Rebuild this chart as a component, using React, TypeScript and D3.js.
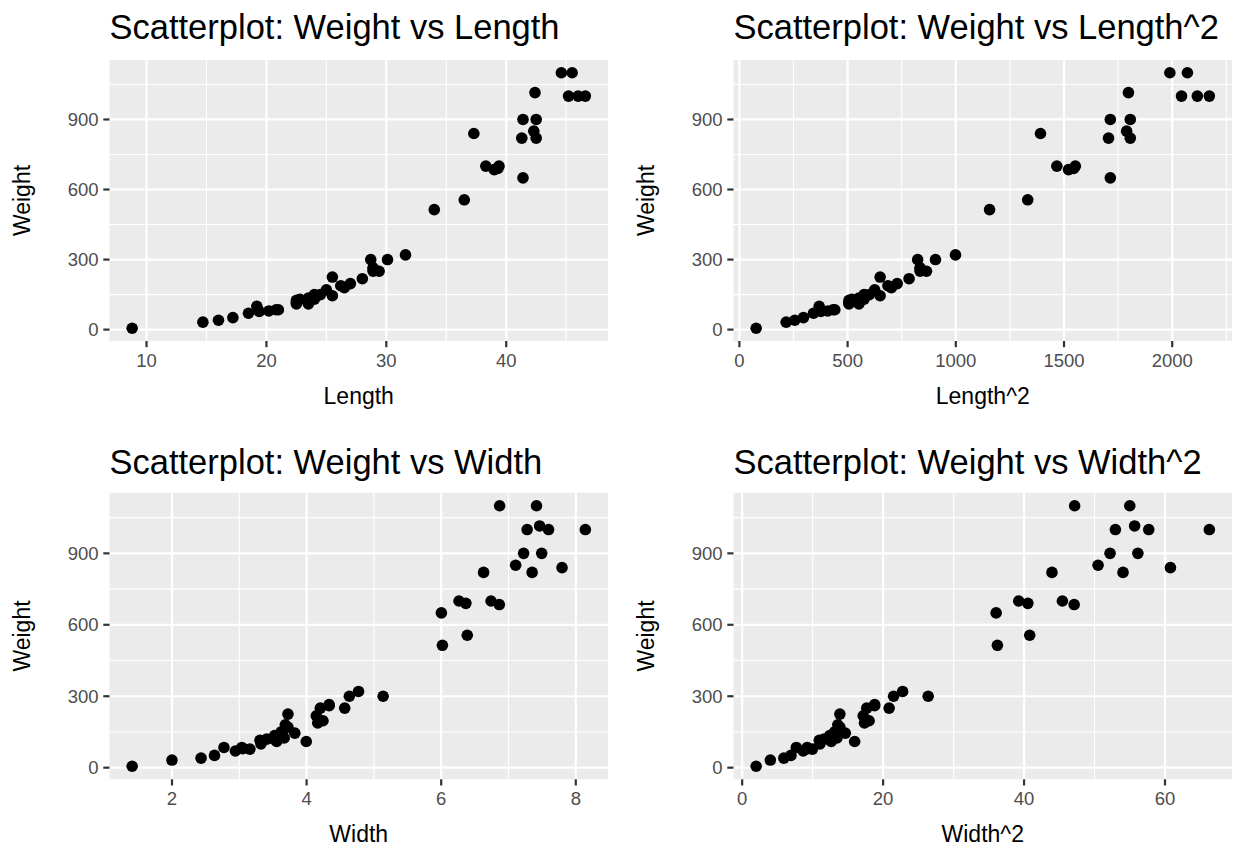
import React from "react";
import * as d3 from "d3";

// Perch data: Weight, Length, Width
const weight = [5.9, 32, 40, 51.5, 70, 100, 78, 80, 85, 85, 110, 115, 125, 130, 120, 120, 130, 135, 110, 130, 150, 145, 150, 170, 225, 145, 188, 180, 197, 218, 300, 260, 265, 250, 250, 300, 320, 514, 556, 840, 685, 700, 700, 690, 900, 650, 820, 850, 900, 1015, 820, 1100, 1000, 1100, 1000, 1000];
const length = [8.8, 14.7, 16.0, 17.2, 18.5, 19.2, 19.4, 20.2, 20.8, 21.0, 22.5, 22.5, 22.5, 22.8, 23.5, 23.5, 23.5, 23.5, 23.5, 24.0, 24.0, 24.2, 24.5, 25.0, 25.5, 25.5, 26.2, 26.5, 27.0, 28.0, 28.7, 28.9, 28.9, 28.9, 29.4, 30.1, 31.6, 34.0, 36.5, 37.3, 39.0, 38.3, 39.4, 39.3, 41.4, 41.4, 41.3, 42.3, 42.5, 42.4, 42.5, 44.6, 45.2, 45.5, 46.0, 46.6];
const width = [1.408, 1.9992, 2.432, 2.6316, 2.9415, 3.3216, 3.1571, 3.0502, 3.0368, 2.772, 3.555, 3.3075, 3.6675, 3.5245, 3.4075, 3.525, 3.525, 3.525, 3.995, 3.624, 3.624, 3.63, 3.626, 3.723, 3.723, 3.825, 4.1658, 3.6835, 4.2439, 4.144, 5.1373, 4.335, 4.335, 4.5662, 4.2042, 4.6354, 4.7716, 6.018, 6.3875, 7.7957, 6.8638, 6.7408, 6.2646, 6.3666, 7.4934, 6.003, 7.3514, 7.1064, 7.225, 7.4624, 6.63, 6.8684, 7.2772, 7.4165, 8.142, 7.5958];

const lengthSq = length.map((v) => v * v);
const widthSq = width.map((v) => v * v);

const weightTicks = [0, 300, 600, 900];
const lengthTicks = [10, 20, 30, 40];
const lengthSqTicks = [0, 500, 1000, 1500, 2000];
const widthTicks = [2, 4, 6, 8];
const widthSqTicks = [0, 20, 40, 60];

const titles = [
  "Scatterplot: Weight vs Length",
  "Scatterplot: Weight vs Length^2",
  "Scatterplot: Weight vs Width",
  "Scatterplot: Weight vs Width^2",
];
const xLabels = ["Length", "Length^2", "Width", "Width^2"];

const FONT = "'Liberation Sans', Arial, Helvetica, sans-serif";
const TICK_FS = 18.5;
const AXIS_FS = 23;
const TITLE_FS = 34.5;

function expand(vals: number[]): [number, number] {
  const [lo, hi] = d3.extent(vals) as [number, number];
  const s = hi - lo;
  return [lo - 0.05 * s, hi + 0.05 * s];
}

function minors(ticks: number[], dom: [number, number]) {
  const step = ticks[1] - ticks[0];
  const out: number[] = [];
  for (let v = ticks[0] - step / 2; v <= ticks[ticks.length - 1] + step / 2 + 1e-9; v += step) {
    if (v >= dom[0] && v <= dom[1]) out.push(v);
  }
  return out;
}

type PanelProps = {
  title: string;
  xLabel: string;
  xs: number[];
  ys: number[];
  xTicks: number[];
  x0: number;
  x1: number;
  y0: number;
  y1: number;
  titleOff: number;
};

function Panel({ title, xLabel, xs, ys, xTicks, x0, x1, y0, y1, titleOff }: PanelProps) {
  const xDom = expand(xs);
  const yDom = expand(ys);
  const x = d3.scaleLinear().domain(xDom).range([x0, x1]);
  const y = d3.scaleLinear().domain(yDom).range([y1, y0]);
  const xMin = minors(xTicks, xDom);
  const yMin = minors(weightTicks, yDom);
  return (
    <g>
      <text x={x0} y={y0 - titleOff} fontSize={TITLE_FS} fontFamily={FONT} fill="#000">
        {title}
      </text>
      <rect x={x0} y={y0} width={x1 - x0} height={y1 - y0} fill="#EBEBEB" />
      {xMin.map((v) => (
        <line key={"xm" + v} x1={x(v)} x2={x(v)} y1={y0} y2={y1} stroke="#fff" strokeWidth={1.1} />
      ))}
      {yMin.map((v) => (
        <line key={"ym" + v} x1={x0} x2={x1} y1={y(v)} y2={y(v)} stroke="#fff" strokeWidth={1.1} />
      ))}
      {xTicks.map((v) => (
        <line key={"xM" + v} x1={x(v)} x2={x(v)} y1={y0} y2={y1} stroke="#fff" strokeWidth={2.2} />
      ))}
      {weightTicks.map((v) => (
        <line key={"yM" + v} x1={x0} x2={x1} y1={y(v)} y2={y(v)} stroke="#fff" strokeWidth={2.2} />
      ))}
      {xs.map((v, i) => (
        <circle key={"p" + i} cx={x(v)} cy={y(ys[i])} r={5.8} fill="#000" />
      ))}
      {xTicks.map((v) => (
        <g key={"xt" + v}>
          <line x1={x(v)} x2={x(v)} y1={y1} y2={y1 + 6.2} stroke="#333" strokeWidth={2.2} />
          <text x={x(v)} y={y1 + 25.5} textAnchor="middle" fontSize={TICK_FS} fontFamily={FONT} fill="#4D4D4D">
            {v}
          </text>
        </g>
      ))}
      {weightTicks.map((v) => (
        <g key={"yt" + v}>
          <line x1={x0 - 6.2} x2={x0} y1={y(v)} y2={y(v)} stroke="#333" strokeWidth={2.2} />
          <text x={x0 - 11} y={y(v) + 6.5} textAnchor="end" fontSize={TICK_FS} fontFamily={FONT} fill="#4D4D4D">
            {v}
          </text>
        </g>
      ))}
      <text x={(x0 + x1) / 2} y={y1 + 63} textAnchor="middle" fontSize={AXIS_FS} fontFamily={FONT} fill="#000">
        {xLabel}
      </text>
      <text
        transform={`translate(${x0 - 79.5},${(y0 + y1) / 2}) rotate(-90)`}
        textAnchor="middle"
        fontSize={AXIS_FS}
        fontFamily={FONT}
        fill="#000"
      >
        Weight
      </text>
    </g>
  );
}

export default function App() {
  const cols = [
    { x0: 109.5, x1: 608 },
    { x0: 733.5, x1: 1232 },
  ];
  const rows = [
    { y0: 60, y1: 341, titleOff: 21 },
    { y0: 492.7, y1: 779.3, titleOff: 19 },
  ];
  const xsList = [length, lengthSq, width, widthSq];
  const tickList = [lengthTicks, lengthSqTicks, widthTicks, widthSqTicks];
  return (
    <svg
      width={1236}
      height={852}
      style={{ position: "absolute", left: 0, top: 0, background: "#fff" }}
    >
      <rect width={1236} height={852} fill="#fff" />
      {[0, 1, 2, 3].map((i) => {
        const c = cols[i % 2];
        const r = rows[Math.floor(i / 2)];
        return (
          <Panel
            key={i}
            title={titles[i]}
            xLabel={xLabels[i]}
            xs={xsList[i]}
            ys={weight}
            xTicks={tickList[i]}
            x0={c.x0}
            x1={c.x1}
            y0={r.y0}
            y1={r.y1}
            titleOff={r.titleOff}
          />
        );
      })}
    </svg>
  );
}
